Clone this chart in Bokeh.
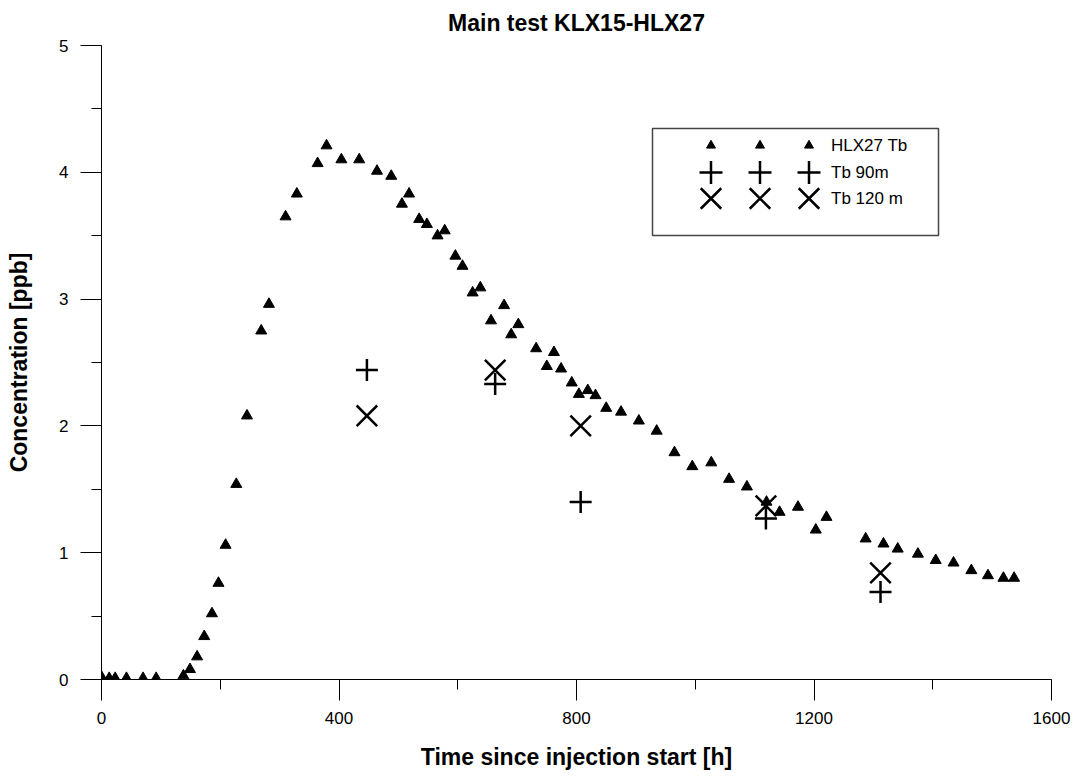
from bokeh.plotting import figure
from bokeh.models import Range1d, SingleIntervalTicker
from bokeh.core.properties import value
from bokeh.embed import file_html
from bokeh.resources import INLINE

# ---- data ----
hlx27_t = [0, 13, 23, 42, 70, 92, 138, 149, 161, 173, 186, 197, 209, 227, 245,
           269, 282, 310, 329, 364, 379, 404, 434, 464, 488, 506, 518, 535, 548,
           566, 578, 596, 608, 625, 638, 656, 678, 690, 702, 732, 750, 762, 774,
           792, 804, 819, 832, 850, 875, 905, 935, 965, 995, 1027, 1057, 1087,
           1120, 1142, 1173, 1203, 1221, 1287, 1317, 1341, 1375, 1405, 1435,
           1465, 1493, 1519, 1537]
hlx27_c = [0.02, 0.01, 0.01, 0.01, 0.01, 0.01, 0.03, 0.08, 0.18, 0.34, 0.52, 0.76,
           1.06, 1.54, 2.08, 2.75, 2.96, 3.65, 3.83, 4.07, 4.21, 4.10, 4.10, 4.01,
           3.97, 3.75, 3.83, 3.63, 3.59, 3.50, 3.54, 3.34, 3.26, 3.05, 3.09, 2.83,
           2.95, 2.72, 2.80, 2.61, 2.47, 2.58, 2.45, 2.34, 2.25, 2.28, 2.24, 2.14,
           2.11, 2.04, 1.96, 1.79, 1.68, 1.71, 1.58, 1.52, 1.40, 1.32, 1.36, 1.18,
           1.28, 1.11, 1.07, 1.03, 0.99, 0.94, 0.92, 0.86, 0.82, 0.80, 0.80]
tb90_t = [447, 663, 807, 1119, 1312]
tb90_c = [2.44, 2.33, 1.40, 1.27, 0.69]
tb120_t = [447, 663, 807, 1119, 1312]
tb120_c = [2.08, 2.44, 2.00, 1.37, 0.84]
series_labels = ["HLX27 Tb", "Tb 90m", "Tb 120 m"]

FONT = "Liberation Sans"
BLACK = "#000000"

p = figure(frame_width=950, frame_height=634,
           x_range=Range1d(0, 1600), y_range=Range1d(0, 5),
           output_backend="svg", toolbar_location=None,
           min_border_left=101, min_border_right=26,
           min_border_top=45, min_border_bottom=97,
           title="Main test KLX15-HLX27")
p.outline_line_color = None
p.grid.visible = False
p.background_fill_color = "white"
p.border_fill_color = "white"

p.title.text_font = FONT
p.title.text_font_size = "23px"
p.title.text_font_style = "bold"
p.title.align = "center"
p.title.vertical_align = "top"
p.title.text_color = BLACK
p.title.standoff = 16

p.xaxis.ticker = SingleIntervalTicker(interval=400, num_minor_ticks=2)
p.yaxis.ticker = SingleIntervalTicker(interval=1, num_minor_ticks=2)
for ax in (p.xaxis, p.yaxis):
    ax.axis_line_color = BLACK
    ax.axis_line_width = 1
    ax.major_tick_line_color = BLACK
    ax.minor_tick_line_color = BLACK
    ax.major_tick_in = 0
    ax.minor_tick_in = 0
    ax.major_tick_out = 21
    ax.minor_tick_out = 10
    ax.major_label_text_font = FONT
    ax.major_label_text_font_size = "17px"
    ax.major_label_text_color = BLACK
    ax.axis_label_text_font = FONT
    ax.axis_label_text_font_size = "23px"
    ax.axis_label_text_font_style = "bold"
    ax.axis_label_text_color = BLACK
p.xaxis.axis_label = "Time since injection start [h]"
p.yaxis.axis_label = "Concentration [ppb]"
p.xaxis.major_label_standoff = 11
p.xaxis.axis_label_standoff = 17
p.yaxis.major_label_standoff = 12
p.yaxis.axis_label_standoff = 24

# ---- data marks ----
p.scatter(hlx27_t, hlx27_c, marker="triangle", size=11,
          fill_color=BLACK, line_color=BLACK)
p.scatter(tb90_t, tb90_c, marker="cross", size=22,
          line_color=BLACK, line_width=2.5)
p.scatter(tb120_t, tb120_c, marker="x", size=29,
          line_color=BLACK, line_width=2.5)

# ---- custom legend in frame pixel coordinates ----
p.extra_x_ranges = {"lx": Range1d(0, 950)}
p.extra_y_ranges = {"ly": Range1d(634, 0)}
p.quad(left=[551], right=[837], top=[83], bottom=[190],
       x_range_name="lx", y_range_name="ly",
       fill_color="white", line_color="#444444", line_width=1.5)
leg_cols = [609.5, 658.5, 707.5]
leg_rows = [100, 127, 153]
p.scatter(leg_cols, [leg_rows[0]] * 3, marker="triangle", size=9,
          fill_color=BLACK, line_color=BLACK,
          x_range_name="lx", y_range_name="ly")
p.scatter(leg_cols, [leg_rows[1]] * 3, marker="cross", size=23,
          line_color=BLACK, line_width=2.5,
          x_range_name="lx", y_range_name="ly")
p.scatter(leg_cols, [leg_rows[2]] * 3, marker="x", size=29,
          line_color=BLACK, line_width=2.5,
          x_range_name="lx", y_range_name="ly")
p.text(x=[729.5] * 3, y=leg_rows, text=series_labels,
       x_range_name="lx", y_range_name="ly",
       text_font=value(FONT), text_font_size="17px",
       text_baseline="middle", text_align="left", text_color=BLACK)

open("out.html", "w").write(file_html(p, INLINE))
